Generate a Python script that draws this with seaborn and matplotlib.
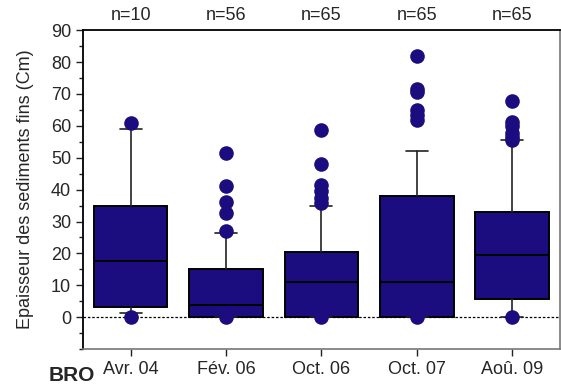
import pandas as pd
import matplotlib
matplotlib.use("Agg")
import matplotlib.pyplot as plt
import matplotlib.transforms as mtransforms
from matplotlib.ticker import MultipleLocator
import seaborn as sns

# Données
campagnes = ["Avr. 04", "Fév. 06", "Oct. 06", "Oct. 07", "Aoû. 09"]
effectifs = [10, 56, 65, 65, 65]
q1 = [3.2, 0, 0, 0, 5.7]
medianes = [17.5, 3.7, 11, 11, 19.5]
q3 = [35, 15, 20.5, 38, 33]
moust_bas = [1.3, 0, 0, 0, 0]
moust_haut = [59, 26.5, 35, 52, 55.5]
aberrants = [
    [61, 0],
    [51.5, 41, 36, 32.7, 26.9, 0],
    [58.6, 48, 41.4, 39.5, 37.5, 35.8, 0],
    [82, 71.7, 70.5, 65, 63.5, 61.8, 0],
    [67.8, 61.2, 60, 57.7, 56.5, 55.5, 0],
]

bleu = "#1b0c80"

sns.set_style("ticks")
plt.rcParams["font.family"] = ["Liberation Sans", "DejaVu Sans"]

fig = plt.figure(figsize=(5.61, 3.87), dpi=100)
ax = fig.add_axes([0.148, 0.098, 0.850, 0.824])

# Boîtes à partir des statistiques
stats = []
for i, nom in enumerate(campagnes):
    stats.append({"label": nom, "q1": q1[i], "med": medianes[i], "q3": q3[i],
                  "whislo": moust_bas[i], "whishi": moust_haut[i], "fliers": []})

ax.bxp(stats, positions=range(len(campagnes)), widths=0.77, patch_artist=True,
       showfliers=False,
       boxprops=dict(facecolor=bleu, edgecolor="black", linewidth=1.4),
       medianprops=dict(color="black", linewidth=1.4),
       whiskerprops=dict(color="#222222", linewidth=1.2),
       capprops=dict(color="#222222", linewidth=1.2),
       capwidths=0.23, zorder=2)

# Valeurs extrêmes
df = pd.DataFrame({
    "campagne": [c for c, vals in zip(campagnes, aberrants) for _ in vals],
    "epaisseur": [v for vals in aberrants for v in vals],
})
sns.stripplot(data=df, x="campagne", y="epaisseur", order=campagnes,
              jitter=False, color=bleu, size=10.5, linewidth=0, ax=ax, zorder=4)

ax.axhline(0, color="black", linestyle=(0, (2, 1.5)), linewidth=0.9, zorder=1)

ax.set_xlim(-0.5, 4.5)
ax.set_ylim(-10, 90)
ax.yaxis.set_major_locator(MultipleLocator(10))
ax.yaxis.set_minor_locator(MultipleLocator(5))
ax.set_yticks(range(0, 91, 10))
ax.set_xticks(range(len(campagnes)))
ax.set_xticklabels(campagnes)
ax.tick_params(axis="both", which="major", labelsize=13, length=5, width=1, color="#222222")
ax.tick_params(axis="y", which="minor", length=3, width=1, color="#222222")
ax.set_xlabel("")
ax.set_ylabel("Epaisseur des sediments fins (Cm)", fontsize=13, labelpad=12)

for side in ["left", "top"]:
    ax.spines[side].set_color("black")
    ax.spines[side].set_linewidth(1.3)
for side in ["right", "bottom"]:
    ax.spines[side].set_color("#777777")
    ax.spines[side].set_linewidth(1.2)
    ax.spines[side].set_visible(True)

trans = mtransforms.blended_transform_factory(ax.transData, ax.transAxes)
for i, n in enumerate(effectifs):
    ax.text(i, 1.047, f"n={n}", transform=trans, ha="center", va="center", fontsize=13)

fig.text(0.128, 0.03, "BRO", fontsize=15, fontweight="bold", ha="center", va="center")

fig.savefig("out.png", dpi=100)
